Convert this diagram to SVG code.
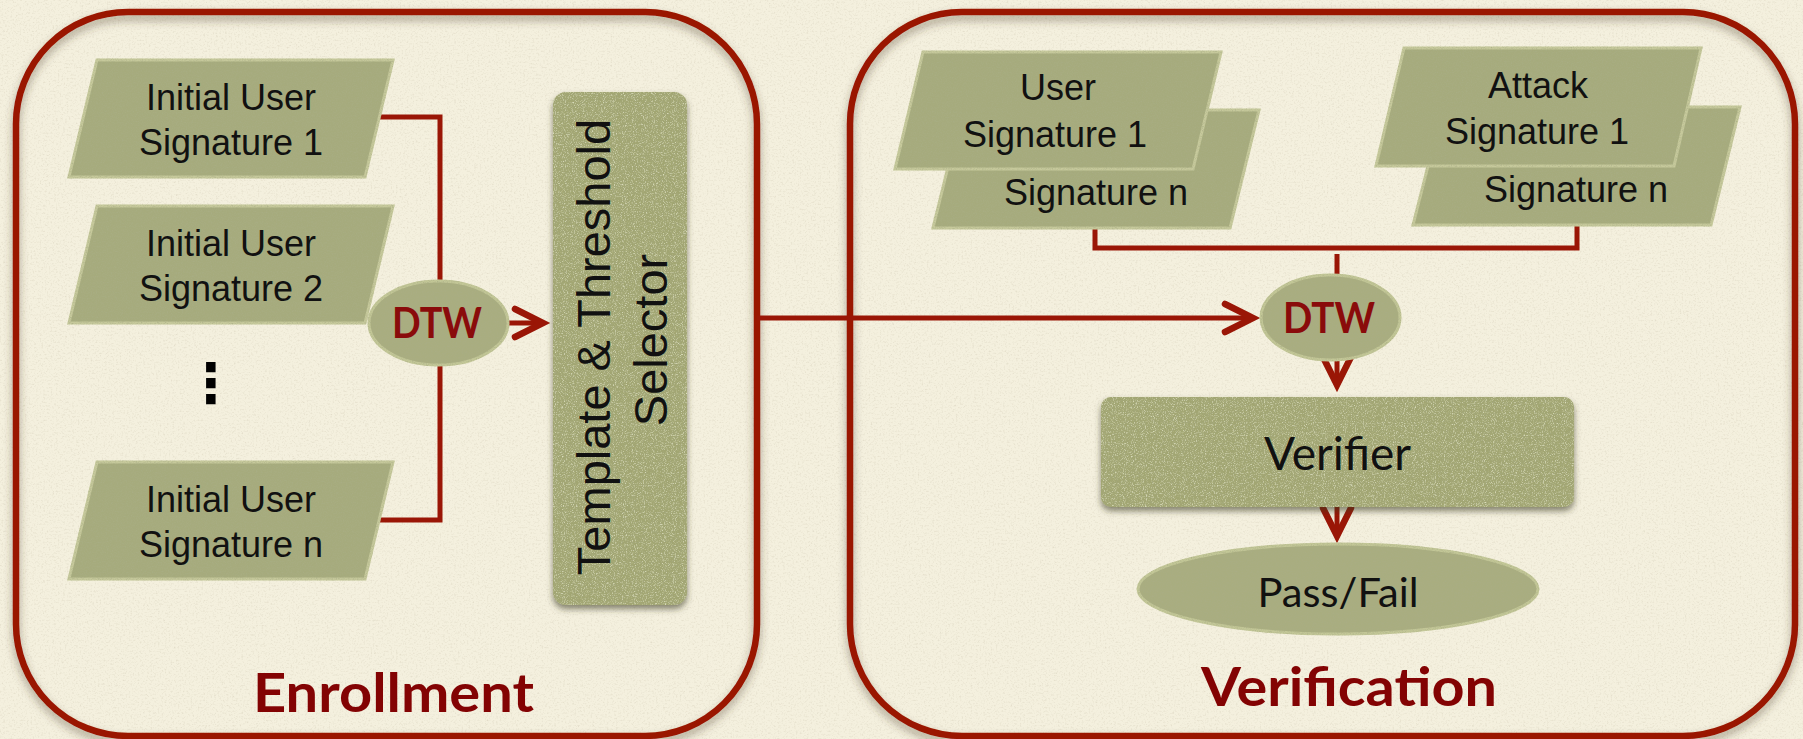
<svg xmlns="http://www.w3.org/2000/svg" width="1803" height="739" viewBox="0 0 1803 739">
  <defs>
    <style>
      .paper { fill: #f4f0de; }
      .rim { fill: none; stroke: #9a1606; stroke-width: 6.5; }
      .wire { fill: none; stroke: #9a1606; stroke-width: 5; stroke-linejoin: miter; }
      .sig { fill: #a6ab7d; stroke: #c6c99b; stroke-width: 3; }
      .blob { fill: #a9ad80; stroke: #c3c797; stroke-width: 3; }
      .block { fill: #a0a46d; }
      .sigtxt { font-family: "Liberation Sans", Arial, sans-serif; font-size: 36px; fill: #111; text-anchor: middle; }
      .vtxt { font-family: "Liberation Sans", Arial, sans-serif; font-size: 47px; fill: #111; text-anchor: middle; }
      .dtw { font-family: Lato, "Open Sans", sans-serif; font-weight: bold; font-size: 42px; fill: #8a0b0b; text-anchor: middle; }
      .calm { font-family: Lato, "Open Sans", sans-serif; fill: #111; text-anchor: middle; }
      .title { font-family: Lato, "Open Sans", sans-serif; font-weight: bold; font-size: 53px; fill: #830303; text-anchor: middle; }
    </style>

    <!-- open chevron arrowhead -->
    <marker id="chev" viewBox="0 0 40 40" markerWidth="40" markerHeight="40" markerUnits="userSpaceOnUse" refX="34" refY="20" orient="auto" overflow="visible">
      <path d="M6,6 L34,20 L6,34" fill="none" stroke="#9a1606" stroke-width="6.5" stroke-linecap="round" stroke-linejoin="miter"/>
    </marker>

    <!-- faint paper grain -->
    <filter id="paperGrain" x="0" y="0" width="100%" height="100%">
      <feTurbulence type="fractalNoise" baseFrequency="0.55" numOctaves="3" seed="11" result="n"/>
      <feColorMatrix in="n" type="matrix" values="0 0 0 0 0.60  0 0 0 0 0.55  0 0 0 0 0.42  1.0 0 0 0 -0.50" result="specks"/>
      <feComposite in="specks" in2="SourceGraphic" operator="in" result="clip"/>
      <feMerge><feMergeNode in="SourceGraphic"/><feMergeNode in="clip"/></feMerge>
    </filter>

    <!-- soft shadow under the panel rims -->
    <filter id="rimShadow" x="-5%" y="-5%" width="110%" height="115%">
      <feGaussianBlur in="SourceAlpha" stdDeviation="4"/>
      <feOffset dy="5" result="b"/>
      <feFlood flood-color="#4a3a2a" flood-opacity="0.45"/>
      <feComposite in2="b" operator="in" result="s"/>
      <feMerge><feMergeNode in="s"/><feMergeNode in="SourceGraphic"/></feMerge>
    </filter>

    <!-- mottled olive texture -->
    <filter id="grain" x="-5%" y="-5%" width="110%" height="110%">
      <feTurbulence type="fractalNoise" baseFrequency="0.8" numOctaves="3" seed="7" result="n"/>
      <feColorMatrix in="n" type="matrix" values="0 0 0 0 0.40  0 0 0 0 0.42  0 0 0 0 0.24  1.6 0 0 0 -0.66" result="spots"/>
      <feComposite in="spots" in2="SourceGraphic" operator="in" result="clip"/>
      <feMerge><feMergeNode in="SourceGraphic"/><feMergeNode in="clip"/></feMerge>
    </filter>

    <!-- heavier texture plus drop shadow for the process blocks -->
    <filter id="blockFx" x="-10%" y="-10%" width="120%" height="125%">
      <feGaussianBlur in="SourceAlpha" stdDeviation="3"/>
      <feOffset dy="4" result="sb"/>
      <feFlood flood-color="#3a3a22" flood-opacity="0.6"/>
      <feComposite in2="sb" operator="in" result="shadow"/>
      <feTurbulence type="fractalNoise" baseFrequency="0.9" numOctaves="3" seed="3" result="n"/>
      <feColorMatrix in="n" type="matrix" values="0 0 0 0 0.38  0 0 0 0 0.40  0 0 0 0 0.22  2.2 0 0 0 -0.9" result="spots"/>
      <feComposite in="spots" in2="SourceGraphic" operator="in" result="clip"/>
      <feColorMatrix in="n" type="matrix" values="0 0 0 0 0.78  0 0 0 0 0.80  0 0 0 0 0.58  -2.0 0 0 0 1.0" result="lights"/>
      <feComposite in="lights" in2="SourceGraphic" operator="in" result="clip2"/>
      <feMerge><feMergeNode in="shadow"/><feMergeNode in="SourceGraphic"/><feMergeNode in="clip"/><feMergeNode in="clip2"/></feMerge>
    </filter>
  </defs>

  <!-- background -->
  <rect class="paper" x="0" y="0" width="1803" height="739" filter="url(#paperGrain)"/>

  <!-- panels -->
  <g id="panel-enrollment">
    <rect class="rim" x="16" y="12" width="741" height="724" rx="112" ry="112" filter="url(#rimShadow)"/>
    <text class="title" x="393.5" y="712" textLength="281" lengthAdjust="spacingAndGlyphs">Enrollment</text>
  </g>
  <g id="panel-verification">
    <rect class="rim" x="850" y="12" width="945" height="724" rx="112" ry="112" filter="url(#rimShadow)"/>
    <text class="title" x="1349" y="706" textLength="296" lengthAdjust="spacingAndGlyphs">Verification</text>
  </g>

  <!-- connectors -->
  <g id="connectors">
    <path class="wire" d="M376,117 H440 V284"/>
    <path class="wire" d="M376,520 H440 V362"/>
    <path class="wire" d="M506,323 H543" marker-end="url(#chev)"/>
    <path class="wire" d="M757,318 H1253" marker-end="url(#chev)"/>
    <path class="wire" d="M1095,224 V248 H1577 V221"/>
    <path class="wire" d="M1337,254 V278"/>
    <path class="wire" d="M1337,358 V385" marker-end="url(#chev)"/>
    <path class="wire" d="M1337,507 V536" marker-end="url(#chev)"/>
  </g>

  <!-- enrollment inputs -->
  <g id="initial-sig-1">
    <polygon class="sig" points="97,60 393,60 365,177 69,177" filter="url(#grain)"/>
    <text class="sigtxt" x="231" y="110">Initial User</text>
    <text class="sigtxt" x="231" y="155">Signature 1</text>
  </g>
  <g id="initial-sig-2">
    <polygon class="sig" points="97,206 393,206 365,323 69,323" filter="url(#grain)"/>
    <text class="sigtxt" x="231" y="256">Initial User</text>
    <text class="sigtxt" x="231" y="301">Signature 2</text>
  </g>
  <g id="initial-sig-ellipsis">
    <text x="211" y="402" font-family="'DejaVu Sans', sans-serif" font-weight="bold" font-size="54" fill="#000" text-anchor="middle">⋮</text>
  </g>
  <g id="initial-sig-n">
    <polygon class="sig" points="97,462 393,462 365,579 69,579" filter="url(#grain)"/>
    <text class="sigtxt" x="231" y="512">Initial User</text>
    <text class="sigtxt" x="231" y="557">Signature n</text>
  </g>

  <g id="dtw-enroll">
    <ellipse class="blob" cx="438.5" cy="323" rx="69.5" ry="42" filter="url(#grain)"/>
    <text class="dtw" x="437" y="338" textLength="90" lengthAdjust="spacingAndGlyphs">DTW</text>
  </g>

  <g id="template-selector">
    <rect class="block" x="553" y="92" width="134" height="513" rx="13" ry="13" filter="url(#blockFx)"/>
    <text class="vtxt" transform="translate(610,347) rotate(-90)">Template &amp; Threshold</text>
    <text class="vtxt" transform="translate(667,340) rotate(-90)">Selector</text>
  </g>

  <!-- verification inputs -->
  <g id="user-sig-stack">
    <polygon class="sig" points="962,110 1259,110 1230,228 933,228" filter="url(#grain)"/>
    <text class="sigtxt" x="1096" y="205">Signature n</text>
    <polygon class="sig" points="923,52 1221,52 1193,169 895,169" filter="url(#grain)"/>
    <text class="sigtxt" x="1058" y="100">User</text>
    <text class="sigtxt" x="1055" y="147">Signature 1</text>
  </g>
  <g id="attack-sig-stack">
    <polygon class="sig" points="1443,107 1740,107 1711,225 1413,225" filter="url(#grain)"/>
    <text class="sigtxt" x="1576" y="202">Signature n</text>
    <polygon class="sig" points="1404,48 1701,48 1674,166 1376,166" filter="url(#grain)"/>
    <text class="sigtxt" x="1538" y="98">Attack</text>
    <text class="sigtxt" x="1537" y="144">Signature 1</text>
  </g>

  <g id="dtw-verify">
    <ellipse class="blob" cx="1330.5" cy="317.5" rx="69.5" ry="42.5" filter="url(#grain)"/>
    <text class="dtw" x="1329" y="333" textLength="92" lengthAdjust="spacingAndGlyphs">DTW</text>
  </g>

  <g id="verifier">
    <rect class="block" x="1101" y="397" width="473" height="110" rx="10" ry="10" filter="url(#blockFx)"/>
    <text class="calm" x="1337.5" y="470" font-size="46" textLength="147" lengthAdjust="spacingAndGlyphs">Verifier</text>
  </g>

  <g id="pass-fail">
    <ellipse class="blob" cx="1338" cy="589" rx="200" ry="45" filter="url(#grain)"/>
    <text class="calm" x="1338" y="607" font-size="41" textLength="161" lengthAdjust="spacingAndGlyphs">Pass/Fail</text>
  </g>
</svg>
